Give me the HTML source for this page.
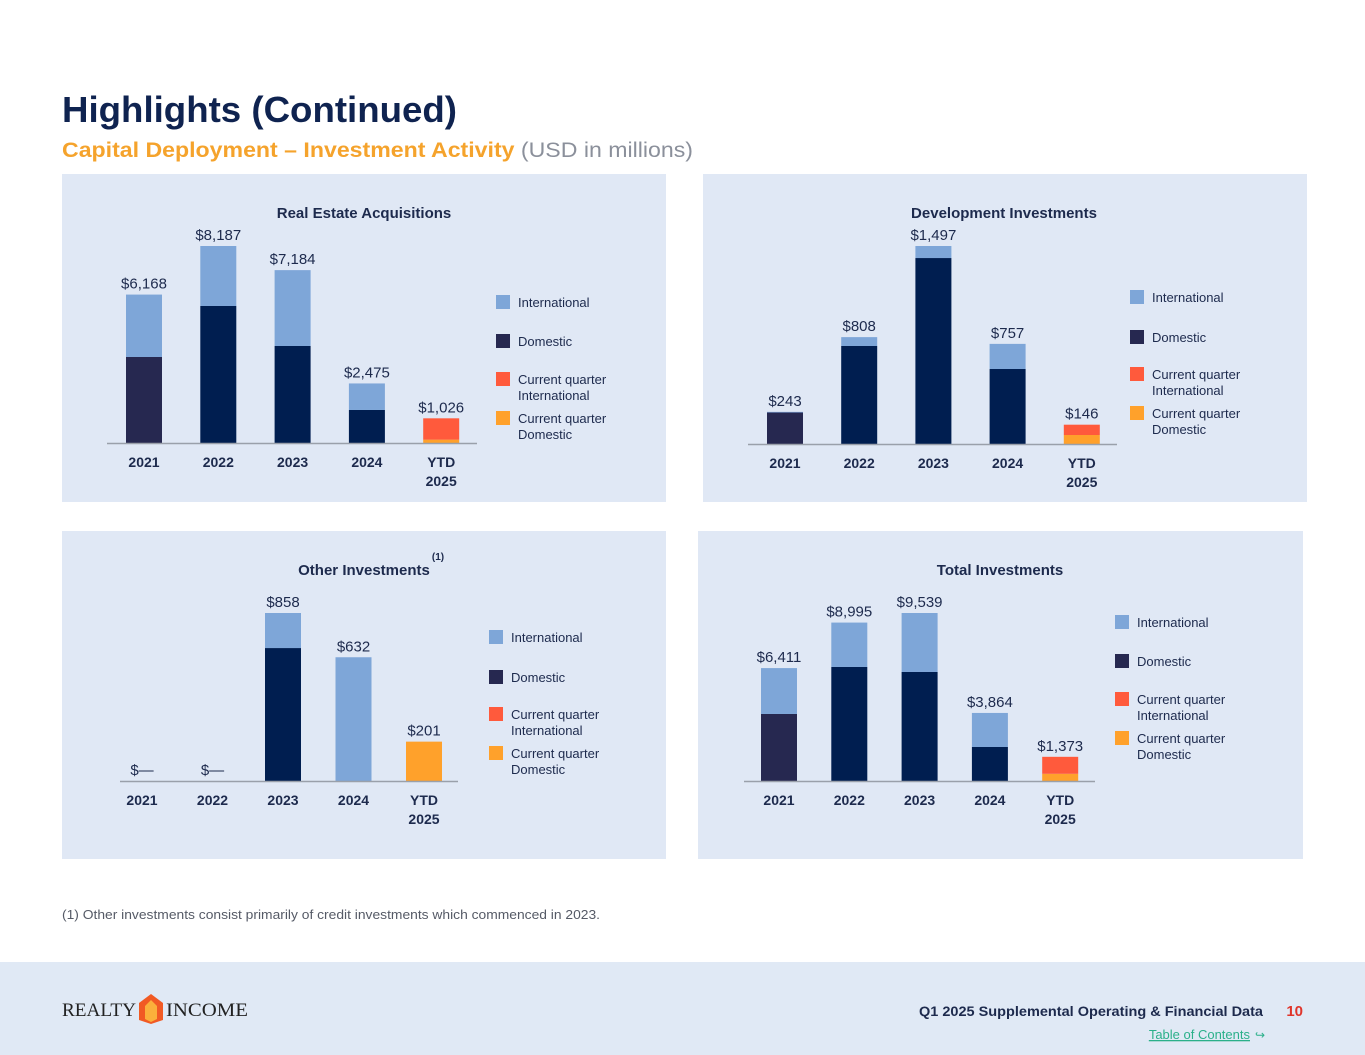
<!DOCTYPE html>
<html><head><meta charset="utf-8"><style>
body{margin:0;width:1365px;height:1055px;background:#fff;font-family:"Liberation Sans",sans-serif;overflow:hidden}
svg{position:absolute;left:0;top:0}
</style></head><body>
<svg id="s" width="1365" height="1055" font-family="Liberation Sans, sans-serif">
<text x="62" y="122" font-size="36" font-weight="bold" fill="#0f2350" textLength="395" lengthAdjust="spacingAndGlyphs">Highlights (Continued)</text>
<text x="62" y="157" font-size="21" textLength="631" lengthAdjust="spacingAndGlyphs"><tspan font-weight="bold" fill="#f5a32c">Capital Deployment – Investment Activity</tspan><tspan fill="#8b909b"> (USD in millions)</tspan></text>
<text x="62" y="919" font-size="13" fill="#555a66" textLength="538" lengthAdjust="spacingAndGlyphs">(1)  Other investments consist primarily of credit investments which commenced in 2023.</text>
<rect x="0" y="962" width="1365" height="93" fill="#e0e9f5"/>
<g>
<text x="62" y="1016" font-size="19" font-family="Liberation Serif, serif" fill="#222" textLength="74" lengthAdjust="spacingAndGlyphs">REALTY</text>
<path d="M151 994 L163 1003 L163 1020 L151 1024 L139 1020 L139 1003 Z" fill="#f15a24"/>
<path d="M151 1000 L157 1006 L157 1019 L151 1022 L145 1019 L145 1006 Z" fill="#fbb03b"/>
<text x="166" y="1016" font-size="19" font-family="Liberation Serif, serif" fill="#222" textLength="82" lengthAdjust="spacingAndGlyphs">INCOME</text>
</g>
<text x="1263" y="1016" font-size="14" fill="#1d2a4d" text-anchor="end" font-weight="bold" textLength="344" lengthAdjust="spacingAndGlyphs">Q1 2025 Supplemental Operating &amp; Financial Data</text>
<text x="1303" y="1016" font-size="15" fill="#e0352b" font-weight="bold" text-anchor="end">10</text>
<text x="1250" y="1039" font-size="13" fill="#2bb08a" text-anchor="end" text-decoration="underline">Table of Contents</text>
<text x="1255" y="1039" font-size="12" fill="#2bb08a">↪</text>
</svg>
<script>
// Chart 1: Real Estate Acquisitions
const reCats=["2021","2022","2023","2024","YTD|2025"];
const reDom=[3574,5694,4031,1372,0];
const reIntl=[2594,2493,3153,1103,0];
const reCqDom=[0,0,0,0,140];
const reCqIntl=[0,0,0,0,886];
const reLabels=["$6,168","$8,187","$7,184","$2,475","$1,026"];
// Chart 2: Development Investments
const devCats=["2021","2022","2023","2024","YTD|2025"];
const devDom=[238,741,1406,567,0];
const devIntl=[5,67,91,190,0];
const devCqDom=[0,0,0,0,68];
const devCqIntl=[0,0,0,0,78];
const devLabels=["$243","$808","$1,497","$757","$146"];
// Chart 3: Other Investments
const othCats=["2021","2022","2023","2024","YTD|2025"];
const othDom=[0,0,679,0,0];
const othIntl=[0,0,179,632,0];
const othCqDom=[0,0,0,0,201];
const othCqIntl=[0,0,0,0,0];
const othLabels=["$—","$—","$858","$632","$201"];
// Chart 4: Total Investments
const totCats=["2021","2022","2023","2024","YTD|2025"];
const totDom=[3805,6474,6190,1931,0];
const totIntl=[2606,2521,3349,1933,0];
const totCqDom=[0,0,0,0,409];
const totCqIntl=[0,0,0,0,964];
const totLabels=["$6,411","$8,995","$9,539","$3,864","$1,373"];

const NS="http://www.w3.org/2000/svg";
const svg=document.getElementById('s');
function mk(tag,attrs,parent,txt){const e=document.createElementNS(NS,tag);for(const k in attrs)e.setAttribute(k,attrs[k]);if(txt!==undefined)e.textContent=txt;(parent||svg).appendChild(e);return e;}
const C={intl:"#7ea6d8",dom:"#001e50",dom0:"#262850",cqi:"#ff5a3c",cqd:"#ffa12b"};
function chart(cfg){
  const g=mk('g',{});
  
  
  const p=mk('rect',{x:cfg.px,y:cfg.py,width:cfg.pw,height:328,fill:"#e0e8f5"},g);
  
  
  const t=mk('text',{x:cfg.tx,y:cfg.py+44,'font-size':15,'font-weight':'bold',fill:"#1d2a4d",'text-anchor':'middle'},g,cfg.title);
  
  
  const maxv=cfg.max, yb=cfg.base, H=cfg.h;
  const y=v=>v/maxv*H;
  cfg.cats.forEach((c,i)=>{
    const cx=cfg.x0+i*cfg.step, bw=36;
    let top=yb;
    const segs=[[cfg.dom[i],i===0?C.dom0:C.dom,'domestic'],[cfg.intl[i],C.intl,'international'],[cfg.cqd[i],C.cqd,'cq-domestic'],[cfg.cqi[i],C.cqi,'cq-international']];
    segs.forEach(s=>{ if(s[0]<=0)return; const h=y(s[0]); top-=h;
      const r=mk('rect',{x:cx-bw/2,y:top,width:bw,height:h,fill:s[1]},g);
      
      
    });
    const vl=mk('text',{x:cx,y:top-6,'font-size':15,fill:"#1d2a4d",'text-anchor':'middle'},g,cfg.labels[i]);
    
    
    c.split('|').forEach((ln,j)=>{
      const xl=mk('text',{x:cx,y:yb+24+j*19,'font-size':14,'font-weight':'bold',fill:"#1d2a4d",'text-anchor':'middle'},g,ln);
      
      
    });
  });
  const ax=mk('line',{x1:cfg.ax1,x2:cfg.ax2,y1:yb+0.5,y2:yb+0.5,stroke:"#9aa0aa",'stroke-width':1.5},g);
  
  
  const L=[[C.intl,["International"]],[C.dom0,["Domestic"]],[C.cqi,["Current quarter","International"]],[C.cqd,["Current quarter","Domestic"]]];
  L.forEach((l,k)=>{
    const ly=cfg.ly[k];
    const sw=mk('rect',{x:cfg.lx,y:ly-7,width:14,height:14,fill:l[0]},g);
    
    
    l[1].forEach((tx,j)=>{
      const lt=mk('text',{x:cfg.lx+22,y:ly+5+j*16,'font-size':13,fill:"#1d2a4d"},g,tx);
      
      
    });
  });
  return g;
}
chart({name:'real-estate-acquisitions-chart',title:'Real Estate Acquisitions',px:62,py:174,pw:604,tx:364,cats:reCats,dom:reDom,intl:reIntl,cqd:reCqDom,cqi:reCqIntl,labels:reLabels,max:8187,h:197,base:443,x0:144,step:74.3,ax1:107,ax2:477,lx:496,ly:[302,341,379,418]});
chart({name:'development-investments-chart',title:'Development Investments',px:703,py:174,pw:604,tx:1004,cats:devCats,dom:devDom,intl:devIntl,cqd:devCqDom,cqi:devCqIntl,labels:devLabels,max:1497,h:198,base:444,x0:785,step:74.2,ax1:748,ax2:1117,lx:1130,ly:[297,337,374,413]});
const g3=chart({name:'other-investments-chart',title:'Other Investments',px:62,py:531,pw:604,tx:364,cats:othCats,dom:othDom,intl:othIntl,cqd:othCqDom,cqi:othCqIntl,labels:othLabels,max:858,h:168,base:781,x0:142,step:70.5,ax1:120,ax2:458,lx:489,ly:[637,677,714,753]});
const sup=mk('text',{x:438,y:560,'font-size':10,'font-weight':'bold',fill:"#1d2a4d",'text-anchor':'middle'},g3,'(1)');


chart({name:'total-investments-chart',title:'Total Investments',px:698,py:531,pw:605,tx:1000,cats:totCats,dom:totDom,intl:totIntl,cqd:totCqDom,cqi:totCqIntl,labels:totLabels,max:9539,h:168,base:781,x0:779,step:70.3,ax1:744,ax2:1095,lx:1115,ly:[622,661,699,738]});
</script>
</body></html>
